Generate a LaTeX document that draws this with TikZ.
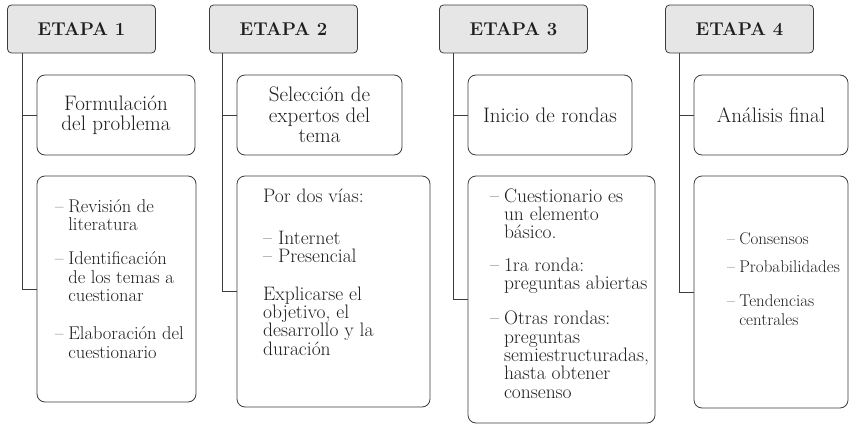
\documentclass[tikz,border=0pt]{standalone}
\usepackage{xcolor}
\usepackage{tikz}
\usetikzlibrary{calc,positioning}

\definecolor{linea}{HTML}{3C3C3C}
\definecolor{gris}{HTML}{E6E6E6}
\definecolor{tinta}{HTML}{1E1E1E}

\newcommand{\guion}{--\hspace{.25em}}
\newcommand{\sang}{\phantom{--\hspace{.25em}}}

\begin{document}
\begin{tikzpicture}[x=1pt, y=-1pt,
        etapa/.style={draw=linea, fill=gris, line width=0.8pt, rounded corners=4pt, minimum width=148pt, minimum height=48pt, inner sep=0pt, text=tinta, font=\fontsize{18.5}{19}\selectfont\bfseries},
        tema/.style={draw=linea, line width=0.8pt, rounded corners=8pt, minimum height=80pt, inner sep=0pt, align=center, text=tinta, font=\fontsize{21}{20.5}\selectfont},
        detalle/.style={draw=linea, line width=0.8pt, rounded corners=8pt, inner sep=0pt},
        texto/.style={anchor=base west, inner sep=0pt, align=left, text=tinta},
        rama/.style={draw=linea, line width=0.8pt}]
            \useasboundingbox (0,0) rectangle (850,425);

            \node[etapa] at (81.5,29) (e1) {ETAPA 1};
            \node[etapa] at (283.5,29) (e2) {ETAPA 2};
            \node[etapa] at (513.5,29) (e3) {ETAPA 3};
            \node[etapa] at (739.5,29) (e4) {ETAPA 4};

            \node[tema, minimum width=158pt] at (116,115) (t1) {Formulación\\del problema};
            \node[tema, minimum width=165pt] at (319.5,115) (t2) {Selección de\\expertos del\\tema};
            \node[tema, minimum width=164pt] at (550,115) (t3) {Inicio de rondas};
            \node[tema, minimum width=154pt] at (771,115) (t4) {Análisis final};

            \node[detalle, minimum width=159pt, minimum height=226pt] at (116.5,289) (d1) {};
            \node[detalle, minimum width=193pt, minimum height=231pt] at (333.5,291.5) (d2) {};
            \node[detalle, minimum width=187pt, minimum height=247pt] at (561.5,299.5) (d3) {};
            \node[detalle, minimum width=154pt, minimum height=232pt] at (771,292) (d4) {};

            \node[texto, font=\fontsize{18.5}{18.3}\selectfont] at (55,358) (x1) {\guion Revisión de\\ \sang literatura\\[16pt] \guion Identificación\\ \sang de los temas a\\ \sang cuestionar\\[20pt] \guion Elaboración del\\ \sang cuestionario};
            \node[texto, font=\fontsize{19.5}{18.3}\selectfont] at (263,355) (x2) {Por dos vías:\\[24pt] -- Internet\\ -- Presencial\\[19pt] Explicarse el\\ objetivo, el\\ desarrollo y la\\ duración};
            \node[texto, font=\fontsize{19.5}{18.3}\selectfont] at (490,398) (x3) {\guion Cuestionario es\\ \sang un elemento\\ \sang básico.\\[14pt] \guion 1ra ronda:\\ \sang preguntas abiertas\\[17pt] \guion Otras rondas:\\ \sang preguntas\\ \sang semiestructuradas,\\ \sang hasta obtener\\ \sang consenso};
            \node[texto, font=\fontsize{17}{18.3}\selectfont] at (727,325) (x4) {\guion Consensos\\[10pt] \guion Probabilidades\\[16pt] \guion Tendencias\\ \sang centrales};

            \coordinate (s1) at ([xshift=-14pt]t1.west |- e1.south);
            \coordinate (s2) at ([xshift=-14pt]t2.west |- e2.south);
            \coordinate (s3) at ([xshift=-14pt]t3.west |- e3.south);
            \coordinate (s4) at ([xshift=-14pt]t4.west |- e4.south);

            \draw[rama] (s1) |- (d1.west);
            \draw[rama] (s1 |- t1.west) -- (t1.west);
            \draw[rama] (s2) |- (d2.west);
            \draw[rama] (s2 |- t2.west) -- (t2.west);
            \draw[rama] (s3) |- (d3.west);
            \draw[rama] (s3 |- t3.west) -- (t3.west);
            \draw[rama] (s4) |- (d4.west);
            \draw[rama] (s4 |- t4.west) -- (t4.west);
        \end{tikzpicture}
\end{document}
